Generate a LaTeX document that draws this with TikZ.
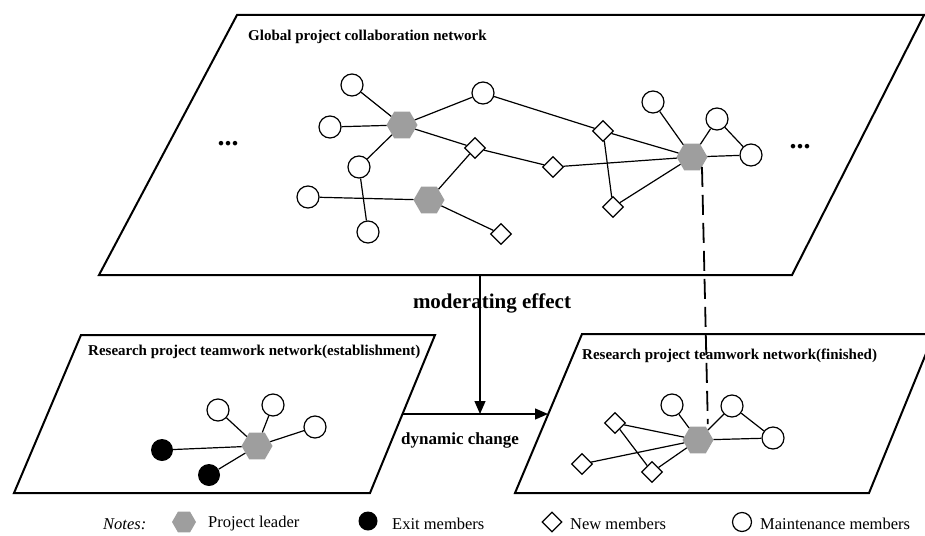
\documentclass[tikz,border=0pt]{standalone}
\usepackage{fontspec}
\setmainfont{Liberation Serif}
\usetikzlibrary{shapes.geometric,arrows.meta}
\definecolor{leadergray}{RGB}{158,158,158}

\begin{document}
\begin{tikzpicture}[x=1pt,y=-1pt,
  frame/.style={line width=2pt, line join=miter},
  link/.style={line width=1.2pt},
  maint/.style={circle, draw, line width=1.2pt, fill=white, minimum size=22pt, inner sep=0},
  exitm/.style={circle, fill=black, minimum size=22pt, inner sep=0},
  newm/.style={diamond, draw, line width=1.2pt, fill=white, minimum size=21pt, inner sep=0},
  leader/.style={regular polygon, regular polygon sides=6, fill=leadergray, minimum size=31pt, inner sep=0},
  nettitle/.style={font=\fontsize{15}{17}\selectfont\bfseries, anchor=west, inner sep=0},
  flowlabel/.style={font=\bfseries, inner sep=0},
  more/.style={font=\fontsize{28}{30}\selectfont\bfseries, inner sep=0},
  legend/.style={font=\fontsize{16.5}{18}\selectfont, anchor=west, inner sep=0},
  flow/.style={line width=1.2pt, -{Triangle[length=13pt,width=11pt]}}
]
\useasboundingbox (0,0) rectangle (925,535);
\clip (0,0) rectangle (925,535);

% ---------- network planes ----------
\draw[frame] (237,15) -- (924,15) -- (792,275) -- (99,275) -- cycle;
\draw[frame] (81,335) -- (435,335) -- (370,493) -- (14,493) -- cycle;
\draw[frame] (582,334) -- (934,334) -- (869,493) -- (515,493) -- cycle;

\node[nettitle] (gtitle) at (248,37) {Global project collaboration network};
\node[nettitle] (etitle) at (88,352) {Research project teamwork network(establishment)};
\node[nettitle] (ftitle) at (582,356) {Research project teamwork network(finished)};

\node[more] (moreL) at (228,144) {...};
\node[more] (moreR) at (800,147) {...};

% ---------- global collaboration network ----------
\node[maint] (A) at (352,85) {};
\node[maint] (B) at (330,127) {};
\node[leader] (H1) at (402,125) {};
\node[maint] (C) at (483,93) {};
\node[newm] (D1) at (475,148) {};
\node[maint] (E) at (359,167) {};
\node[maint] (F) at (308,197) {};
\node[leader] (H2) at (429,200) {};
\node[maint] (G) at (368,232) {};
\node[newm] (D2) at (501,234) {};
\node[newm] (D3) at (603,131) {};
\node[newm] (D4) at (553,167) {};
\node[newm] (D5) at (613,207) {};
\node[leader] (H3) at (692,157) {};
\node[maint] (I) at (653,102) {};
\node[maint] (J) at (717,119) {};
\node[maint] (K) at (751,155) {};

\foreach \u/\v in {H1/A, H1/B, H1/C, H1/D1, H1/E, E/G, F/H2, D1/H2, H2/D2,
                   C/D3, D1/D4, D3/H3, D3/D5, D4/H3, D5/H3, H3/I, H3/J, H3/K, J/K}
  \draw[link] (\u) -- (\v);

% ---------- team network at establishment ----------
\node[maint] (a) at (218,410) {};
\node[maint] (b) at (273,405) {};
\node[maint] (c) at (315,427) {};
\node[leader] (HL) at (257,446) {};
\node[exitm] (d) at (162,450) {};
\node[exitm] (e) at (209,475) {};
\foreach \v in {a,b,c,d,e}
  \draw[link] (HL) -- (\v);

% ---------- team network when finished ----------
\node[maint] (f) at (672,405) {};
\node[maint] (g) at (732,406) {};
\node[maint] (h) at (773,438) {};
\node[leader] (HR) at (698,440) {};
\node[newm] (p) at (615,423) {};
\node[newm] (q) at (582,464) {};
\node[newm] (s) at (652,472) {};
\foreach \u/\v in {HR/f, HR/g, HR/h, g/h, HR/p, p/s, q/HR, s/HR}
  \draw[link] (\u) -- (\v);

% leader continuity across the two levels
\draw[line width=1.8pt, dash pattern=on 20pt off 8pt, shorten >=6pt] (H3.south east) -- (HR.north east);

% ---------- moderating effect and dynamic change ----------
\coordinate (modtop) at (480,275);
\coordinate (dynstart) at (402,414);
\coordinate (dynend) at (548,414);
\coordinate (modend) at (480,414);
\draw[flow] (modtop) -- (modend);
\draw[flow] (dynstart) -- (dynend);
\node[flowlabel, font=\fontsize{21}{23}\selectfont\bfseries] (modlabel) at (492,303) {moderating effect};
\node[flowlabel, font=\fontsize{17}{19}\selectfont\bfseries] (dynlabel) at (460,440) {dynamic change};

% ---------- legend ----------
\node[legend, font=\fontsize{16.5}{18}\selectfont\itshape] (notes) at (103,524) {Notes:};
\node[leader, minimum size=24pt] (lgH) at (184,522) {};
\node[legend] (lgHt) at (208,524) {Project leader};
\node[exitm, minimum size=19pt] (lgX) at (368,521) {};
\node[legend] (lgXt) at (392,524) {Exit members};
\node[newm, minimum size=20pt] (lgN) at (552,522) {};
\node[legend] (lgNt) at (570,524) {New members};
\node[maint, minimum size=19pt] (lgM) at (742,522) {};
\node[legend] (lgMt) at (760,524) {Maintenance members};
\end{tikzpicture}
\end{document}
